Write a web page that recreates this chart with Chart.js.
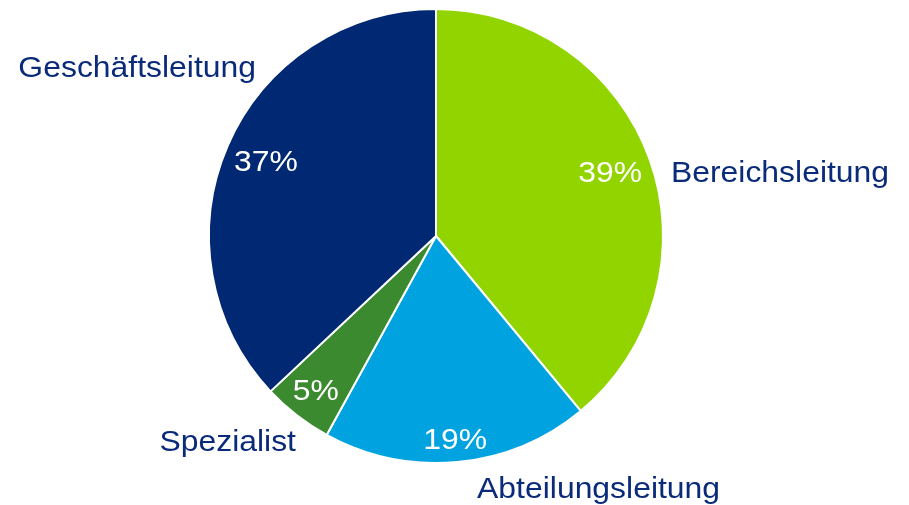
<!DOCTYPE html>
<html>
<head>
<meta charset="utf-8">
<script src="https://cdn.jsdelivr.net/npm/chart.js@4.4.0/dist/chart.umd.min.js"></script>
<style>
  html, body { margin: 0; padding: 0; background: #fff; }
  #wrap { width: 909px; height: 505px; position: relative; }
</style>
</head>
<body>
<div id="wrap"><canvas id="pieChart"></canvas></div>
<script>
// Data
const categories = ["Bereichsleitung", "Abteilungsleitung", "Spezialist", "Geschäftsleitung"];
const shares = [39, 19, 5, 37];
const percentLabels = ["39%", "19%", "5%", "37%"];

// Colours
const sliceColors = ["#92d400", "#00a3e0", "#3b8a2f", "#002873"];
const labelColor = "#0a2a7a";

// Where the category labels sit, relative to the pie centre in units of radius
const outerLabelLayout = [
  { dx: 1.035, dy: -0.273, align: "left" },
  { dx: 0.181, dy: 1.12, align: "left" },
  { dx: -0.617, dy: 0.912, align: "right" },
  { dx: -0.793, dy: -0.735, align: "right" },
];

const fontFamily = "'Liberation Sans', Arial, sans-serif";
const fontSize = 29;
const stretchX = 1.1; // the original text is slightly wider than Arial

function drawText(ctx, text, x, y) {
  ctx.save();
  ctx.translate(x, y);
  ctx.scale(stretchX, 1);
  ctx.fillText(text, 0, 0);
  ctx.restore();
}

// Draw percentages inside the slices and category names outside
const pieLabels = {
  id: "pieLabels",
  afterDatasetsDraw(chart) {
    const ctx = chart.ctx;
    const arcs = chart.getDatasetMeta(0).data;
    ctx.save();
    ctx.textBaseline = "middle";
    ctx.font = fontSize + "px " + fontFamily;
    arcs.forEach((arc, i) => {
      const { x, y, outerRadius, startAngle, endAngle } = arc.getProps(
        ["x", "y", "outerRadius", "startAngle", "endAngle"], true);
      const mid = (startAngle + endAngle) / 2;

      // percent label, inside end
      ctx.fillStyle = "#ffffff";
      ctx.textAlign = "center";
      const w = ctx.measureText(percentLabels[i]).width * stretchX;
      const h = 22;
      const cos = Math.cos(mid), sin = Math.sin(mid);
      const extent = Math.abs(cos) * w / 2 + Math.abs(sin) * h / 2;
      const r = outerRadius - extent - 8;
      drawText(ctx, percentLabels[i], x + cos * r, y + sin * r + 1);

      // category label
      const lay = outerLabelLayout[i];
      ctx.fillStyle = labelColor;
      ctx.textAlign = lay.align;
      drawText(ctx, categories[i], x + lay.dx * outerRadius, y + lay.dy * outerRadius);
    });
    ctx.restore();
  },
};

function initChart() {
  const ctx = document.getElementById("pieChart").getContext("2d");
  new Chart(ctx, {
    type: "pie",
    data: {
      labels: categories,
      datasets: [
        {
          data: shares,
          backgroundColor: sliceColors,
          borderColor: "#ffffff",
          borderWidth: 2,
        },
      ],
    },
    options: {
      responsive: true,
      maintainAspectRatio: false,
      animation: false,
      layout: {
        padding: { top: 8, bottom: 41, left: 0, right: 37 },
      },
      plugins: {
        legend: { display: false },
        tooltip: { enabled: false },
      },
    },
    plugins: [pieLabels],
  });
}

document.addEventListener("DOMContentLoaded", initChart);
</script>
</body>
</html>
